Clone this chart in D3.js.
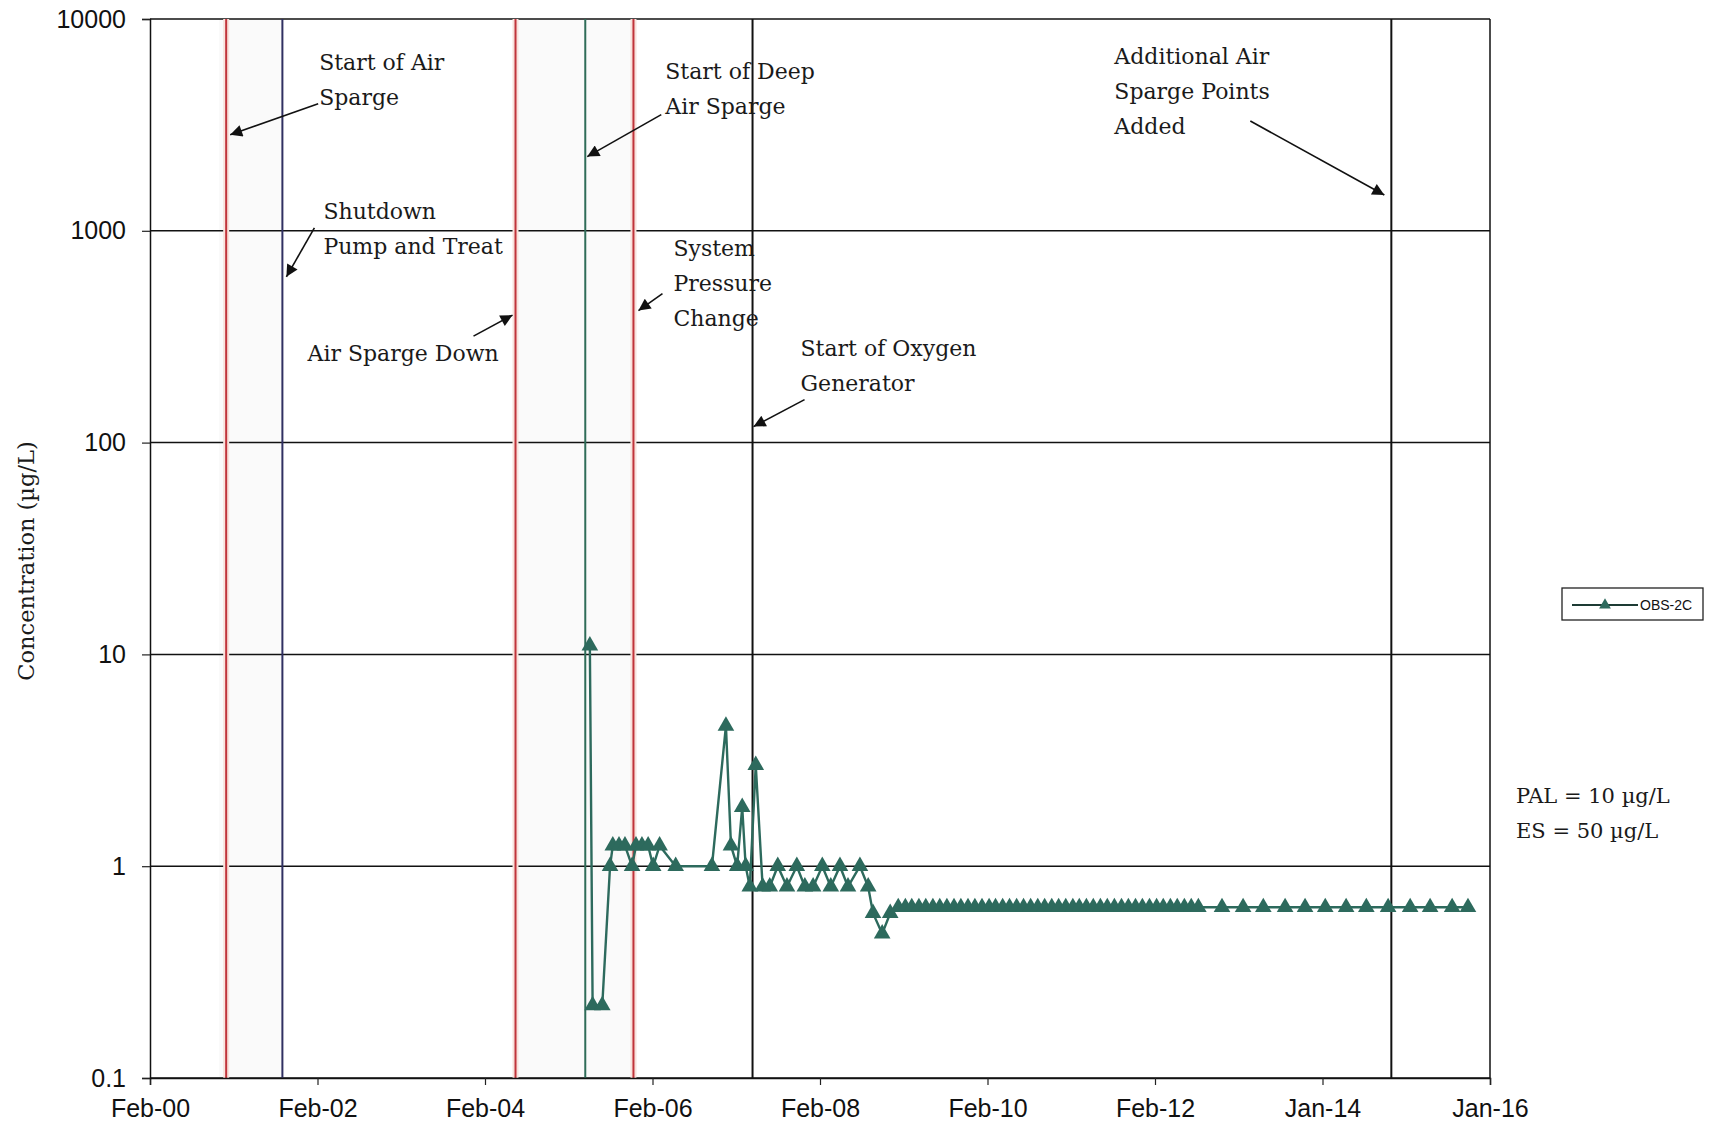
<!DOCTYPE html>
<html>
<head>
<meta charset="utf-8">
<script src="https://cdn.jsdelivr.net/npm/d3@7"></script>
<style>
body { margin: 0; background: #fff; }
svg { display: block; }
.axis text { font-family: "Liberation Sans", Arial, sans-serif; font-size: 25px; fill: #111; }
.note { font-family: "DejaVu Serif", serif; font-size: 22px; fill: #1a1a1a; }
</style>
</head>
<body>
<svg id="chart" width="1715" height="1127"></svg>
<script>
// OBS-2C concentration record
var xTickDates = ['2000-02-04', '2002-02-03', '2004-02-03', '2006-02-02', '2008-02-02',
	'2010-02-01', '2012-02-01', '2014-01-31', '2016-01-31'];
var xTickLabels = ['Feb-00', 'Feb-02', 'Feb-04', 'Feb-06', 'Feb-08', 'Feb-10', 'Feb-12', 'Jan-14', 'Jan-16'];
var yTicks = [0.1, 1, 10, 100, 1000, 10000];
var yTickLabels = ['0.1', '1', '10', '100', '1000', '10000'];

var obsDates = [
	'2005-05-05', '2005-05-17', '2005-06-28', '2005-08-01', '2005-08-13', '2005-09-09', '2005-10-05',
	'2005-11-05', '2005-11-22', '2005-12-18', '2006-01-14', '2006-02-05', '2006-03-05', '2006-05-14',
	'2006-10-19', '2006-12-19', '2007-01-10', '2007-02-06', '2007-02-28', '2007-03-15', '2007-04-02',
	'2007-04-28', '2007-05-28', '2007-06-28', '2007-08-02', '2007-09-11', '2007-10-24', '2007-11-28',
	'2008-01-03', '2008-02-12', '2008-03-20', '2008-04-29', '2008-06-03', '2008-07-25', '2008-08-30',
	'2008-09-20', '2008-10-30', '2008-12-04',
	'2009-01-08', '2009-02-08', '2009-03-08', '2009-04-08', '2009-05-08', '2009-06-08', '2009-07-08',
	'2009-08-08', '2009-09-08', '2009-10-08', '2009-11-08', '2009-12-08',
	'2010-01-08', '2010-02-08', '2010-03-08', '2010-04-08', '2010-05-08', '2010-06-08', '2010-07-08',
	'2010-08-08', '2010-09-08', '2010-10-08', '2010-11-08', '2010-12-08',
	'2011-01-08', '2011-02-08', '2011-03-08', '2011-04-08', '2011-05-08', '2011-06-08', '2011-07-08',
	'2011-08-08', '2011-09-08', '2011-10-08', '2011-11-08', '2011-12-08',
	'2012-01-08', '2012-02-08', '2012-03-08', '2012-04-08', '2012-05-08', '2012-06-08', '2012-07-08',
	'2012-08-08',
	'2012-11-19', '2013-02-19', '2013-05-18', '2013-08-21', '2013-11-16', '2014-02-12', '2014-05-14',
	'2014-08-10', '2014-11-13', '2015-02-17', '2015-05-15', '2015-08-19', '2015-10-27'
];
var obsValues = [
	11, 0.22, 0.22, 1.0, 1.25, 1.25, 1.25,
	1.0, 1.25, 1.25, 1.25, 1.0, 1.25, 1.0,
	1.0, 4.6, 1.25, 1.0, 1.9, 1.0, 0.8,
	3.0, 0.8, 0.8, 1.0, 0.8, 1.0, 0.8,
	0.8, 1.0, 0.8, 1.0, 0.8, 1.0, 0.8,
	0.6, 0.48, 0.6,
	0.64, 0.64, 0.64, 0.64, 0.64, 0.64, 0.64,
	0.64, 0.64, 0.64, 0.64, 0.64,
	0.64, 0.64, 0.64, 0.64, 0.64, 0.64, 0.64,
	0.64, 0.64, 0.64, 0.64, 0.64,
	0.64, 0.64, 0.64, 0.64, 0.64, 0.64, 0.64,
	0.64, 0.64, 0.64, 0.64, 0.64,
	0.64, 0.64, 0.64, 0.64, 0.64, 0.64, 0.64,
	0.64,
	0.64, 0.64, 0.64, 0.64, 0.64, 0.64, 0.64,
	0.64, 0.64, 0.64, 0.64, 0.64, 0.64
];

// remediation events
var eventDates = ['2001-01-01', '2001-09-03', '2004-06-15', '2005-04-15', '2005-11-11', '2007-04-14', '2014-11-27'];
var eventLabels = [
	['Start of Air', 'Sparge'],
	['Shutdown', 'Pump and Treat'],
	['Air Sparge Down'],
	['Start of Deep', 'Air Sparge'],
	['System', 'Pressure', 'Change'],
	['Start of Oxygen', 'Generator'],
	['Additional Air', 'Sparge Points', 'Added']
];
var arrowTipValues = [2840, 606, 400, 2240, 420, 119, 1475];
var bandStarts = ['2000-12-01', '2004-06-15'];
var bandEnds = ['2001-09-03', '2005-11-25'];

// styling / layout for the events (pixels)
var eventColors = ['#c0343b', '#303062', '#c0343b', '#2f6c58', '#c0343b', '#111', '#111'];
var noteLayout = [
	{tipDx: 4, tail: [88, -31], text: [89, -72]},
	{tipDx: 4, tail: [28, -49], text: [37, -66]},
	{tipDx: -3, tail: [-39, 21], text: [-205, 38]},
	{tipDx: 2, tail: [74, -42], text: [78, -85]},
	{tipDx: 5, tail: [24, -17], text: [35, -62]},
	{tipDx: 1, tail: [51, -27], text: [47, -78]},
	{tipDx: -7, tail: [-134, -74], text: [-270, -139]}
];
var lineGap = 35;
var seriesColor = '#2d6a5d';

var parse = d3.utcParse('%Y-%m-%d');

var svg = d3.select('#chart'),
	margin = {top: 19, right: 225, bottom: 49, left: 150},
	width = +svg.attr('width') - margin.left - margin.right,
	height = +svg.attr('height') - margin.top - margin.bottom;

var x = d3.scaleUtc()
	.domain([parse(xTickDates[0]), parse(xTickDates[xTickDates.length - 1])])
	.range([0, width]);
var y = d3.scaleLog().domain([0.1, 10000]).range([height, 0]);

svg.append('defs').append('marker')
	.attr('id', 'head')
	.attr('viewBox', '0 0 10 10')
	.attr('refX', 10).attr('refY', 5)
	.attr('markerWidth', 15).attr('markerHeight', 12)
	.attr('markerUnits', 'userSpaceOnUse')
	.attr('orient', 'auto')
	.append('path').attr('d', 'M0,0L10,5L0,10z').attr('fill', '#111');

var g = svg.append('g')
	.attr('transform', 'translate(' + margin.left + ',' + margin.top + ')');

// faint shading of the sparge periods
g.selectAll('.band')
	.data(bandStarts)
	.enter().append('rect')
	.attr('class', 'band')
	.attr('x', function(d) { return x(parse(d)); })
	.attr('y', 0)
	.attr('width', function(d, i) { return x(parse(bandEnds[i])) - x(parse(d)); })
	.attr('height', height)
	.attr('fill', '#fafafa');

// horizontal gridlines
g.selectAll('.grid')
	.data(yTicks)
	.enter().append('line')
	.attr('class', 'grid')
	.attr('x1', 0).attr('x2', width)
	.attr('y1', function(d) { return y(d); })
	.attr('y2', function(d) { return y(d); })
	.attr('stroke', '#111')
	.attr('stroke-width', 1.5);

g.append('line')
	.attr('x1', width).attr('x2', width)
	.attr('y1', 0).attr('y2', height)
	.attr('stroke', '#111').attr('stroke-width', 1.5);

// event lines
g.selectAll('.halo')
	.data(eventDates)
	.enter().append('line')
	.attr('class', 'halo')
	.attr('x1', function(d) { return x(parse(d)); })
	.attr('x2', function(d) { return x(parse(d)); })
	.attr('y1', 0).attr('y2', height)
	.attr('stroke', function(d, i) { return eventColors[i] === '#c0343b' ? '#f8e2dc' : 'none'; })
	.attr('stroke-width', 6);

g.selectAll('.event')
	.data(eventDates)
	.enter().append('line')
	.attr('class', 'event')
	.attr('x1', function(d) { return x(parse(d)); })
	.attr('x2', function(d) { return x(parse(d)); })
	.attr('y1', 0).attr('y2', height)
	.attr('stroke', function(d, i) { return eventColors[i]; })
	.attr('stroke-width', 2);

// axes
g.append('g')
	.attr('class', 'axis')
	.attr('transform', 'translate(0,' + height + ')')
	.call(d3.axisBottom(x)
		.tickValues(xTickDates.map(parse))
		.tickFormat(function(d, i) { return xTickLabels[i]; })
		.tickSize(7)
		.tickPadding(14));

g.append('g')
	.attr('class', 'axis')
	.call(d3.axisLeft(y)
		.tickValues(yTicks)
		.tickFormat(function(d, i) { return yTickLabels[i]; })
		.tickSize(8)
		.tickPadding(16));

g.selectAll('.axis .domain').attr('stroke', '#111').attr('stroke-width', 1.5);
g.selectAll('.axis .tick line').attr('stroke', '#222').attr('stroke-width', 1.2);

// OBS-2C series
var points = obsDates.map(function(d, i) { return {date: parse(d), value: obsValues[i]}; });

var line = d3.line()
	.x(function(d) { return x(d.date); })
	.y(function(d) { return y(d.value); });

g.append('path')
	.datum(points)
	.attr('fill', 'none')
	.attr('stroke', seriesColor)
	.attr('stroke-width', 2.4)
	.attr('d', line);

var tri = d3.symbol().type(d3.symbolTriangle).size(120);

g.selectAll('.pt')
	.data(points)
	.enter().append('path')
	.attr('class', 'pt')
	.attr('d', tri)
	.attr('transform', function(d) { return 'translate(' + x(d.date) + ',' + y(d.value) + ')'; })
	.attr('fill', seriesColor);

// annotations
var notes = g.selectAll('.ann')
	.data(eventDates)
	.enter().append('g')
	.attr('class', 'ann')
	.attr('transform', function(d, i) {
		return 'translate(' + (x(parse(d)) + noteLayout[i].tipDx) + ',' + y(arrowTipValues[i]) + ')';
	});

notes.append('line')
	.attr('x1', function(d, i) { return noteLayout[i].tail[0]; })
	.attr('y1', function(d, i) { return noteLayout[i].tail[1]; })
	.attr('x2', 0).attr('y2', 0)
	.attr('stroke', '#111')
	.attr('stroke-width', 1.6)
	.attr('marker-end', 'url(#head)');

notes.each(function(d, i) {
	var t = d3.select(this);
	eventLabels[i].forEach(function(s, k) {
		t.append('text')
			.attr('class', 'note')
			.attr('x', noteLayout[i].text[0])
			.attr('y', noteLayout[i].text[1] + k * lineGap)
			.attr('dy', '0.35em')
			.text(s);
	});
});

// y axis title
svg.append('text')
	.attr('class', 'note')
	.attr('transform', 'translate(26,561) rotate(-90)')
	.attr('text-anchor', 'middle')
	.attr('dy', '0.35em')
	.style('font-size', '22.5px')
	.text('Concentration (\u00b5g/L)');

// legend
var lg = svg.append('g').attr('transform', 'translate(1562,588)');
lg.append('rect')
	.attr('width', 141).attr('height', 32)
	.attr('fill', '#fff')
	.attr('stroke', '#222').attr('stroke-width', 1.3);
lg.append('line')
	.attr('x1', 10).attr('x2', 76)
	.attr('y1', 17).attr('y2', 17)
	.attr('stroke', '#1d3b34').attr('stroke-width', 2);
lg.append('path')
	.attr('d', d3.symbol().type(d3.symbolTriangle).size(60))
	.attr('transform', 'translate(43,17)')
	.attr('fill', seriesColor);
lg.append('text')
	.attr('x', 78).attr('y', 17).attr('dy', '0.35em')
	.style('font-family', '"Liberation Sans", Arial, sans-serif')
	.style('font-size', '14px')
	.attr('fill', '#111')
	.text('OBS-2C');

// criteria note
svg.append('text').attr('class', 'note').attr('x', 1516).attr('y', 796).attr('dy', '0.35em')
	.style('font-size', '21px').text('PAL = 10 \u00b5g/L');
svg.append('text').attr('class', 'note').attr('x', 1516).attr('y', 831).attr('dy', '0.35em')
	.style('font-size', '21px').text('ES = 50 \u00b5g/L');
</script>
</body>
</html>
